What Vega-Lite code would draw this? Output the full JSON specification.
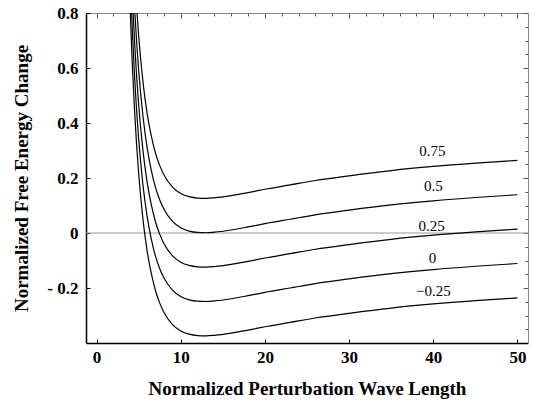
{
  "$schema": "https://vega.github.io/schema/vega-lite/v6.json",
  "width": 442,
  "height": 330,
  "autosize": "none",
  "padding": {"left": 86, "top": 13, "right": 8, "bottom": 60},
  "background": "white",
  "config": {"view": {"stroke": null}, "axis": {"grid": false}},
  "datasets": {
    "curves": [
      {"s":"0.75","x":3.5,"y":1.854},{"s":"0.75","x":3.8,"y":1.498},{"s":"0.75","x":4,"y":1.309},{"s":"0.75","x":4.25,"y":1.114},{"s":"0.75","x":4.5,"y":0.956},{"s":"0.75","x":4.75,"y":0.826},{"s":"0.75","x":5,"y":0.719},{"s":"0.75","x":5.5,"y":0.554},{"s":"0.75","x":6,"y":0.437},{"s":"0.75","x":6.5,"y":0.354},{"s":"0.75","x":7,"y":0.291},{"s":"0.75","x":7.5,"y":0.246},{"s":"0.75","x":8,"y":0.212},{"s":"0.75","x":9,"y":0.168},{"s":"0.75","x":10,"y":0.144},{"s":"0.75","x":11,"y":0.132},{"s":"0.75","x":12,"y":0.127},{"s":"0.75","x":13,"y":0.126},{"s":"0.75","x":14,"y":0.128},{"s":"0.75","x":16,"y":0.136},{"s":"0.75","x":18,"y":0.147},{"s":"0.75","x":20,"y":0.159},{"s":"0.75","x":23,"y":0.175},{"s":"0.75","x":26,"y":0.191},{"s":"0.75","x":30,"y":0.208},{"s":"0.75","x":35,"y":0.227},{"s":"0.75","x":40,"y":0.242},{"s":"0.75","x":45,"y":0.254},{"s":"0.75","x":50,"y":0.264},
      {"s":"0.5","x":3.5,"y":1.729},{"s":"0.5","x":3.8,"y":1.373},{"s":"0.5","x":4,"y":1.184},{"s":"0.5","x":4.25,"y":0.989},{"s":"0.5","x":4.5,"y":0.831},{"s":"0.5","x":4.75,"y":0.701},{"s":"0.5","x":5,"y":0.594},{"s":"0.5","x":5.5,"y":0.429},{"s":"0.5","x":6,"y":0.312},{"s":"0.5","x":6.5,"y":0.229},{"s":"0.5","x":7,"y":0.166},{"s":"0.5","x":7.5,"y":0.121},{"s":"0.5","x":8,"y":0.087},{"s":"0.5","x":9,"y":0.043},{"s":"0.5","x":10,"y":0.019},{"s":"0.5","x":11,"y":0.007},{"s":"0.5","x":12,"y":0.002},{"s":"0.5","x":13,"y":0.001},{"s":"0.5","x":14,"y":0.003},{"s":"0.5","x":16,"y":0.011},{"s":"0.5","x":18,"y":0.022},{"s":"0.5","x":20,"y":0.034},{"s":"0.5","x":23,"y":0.050},{"s":"0.5","x":26,"y":0.066},{"s":"0.5","x":30,"y":0.083},{"s":"0.5","x":35,"y":0.102},{"s":"0.5","x":40,"y":0.117},{"s":"0.5","x":45,"y":0.129},{"s":"0.5","x":50,"y":0.139},
      {"s":"0.25","x":3.5,"y":1.604},{"s":"0.25","x":3.8,"y":1.248},{"s":"0.25","x":4,"y":1.059},{"s":"0.25","x":4.25,"y":0.864},{"s":"0.25","x":4.5,"y":0.706},{"s":"0.25","x":4.75,"y":0.576},{"s":"0.25","x":5,"y":0.469},{"s":"0.25","x":5.5,"y":0.304},{"s":"0.25","x":6,"y":0.187},{"s":"0.25","x":6.5,"y":0.104},{"s":"0.25","x":7,"y":0.041},{"s":"0.25","x":7.5,"y":-0.004},{"s":"0.25","x":8,"y":-0.038},{"s":"0.25","x":9,"y":-0.082},{"s":"0.25","x":10,"y":-0.106},{"s":"0.25","x":11,"y":-0.118},{"s":"0.25","x":12,"y":-0.123},{"s":"0.25","x":13,"y":-0.124},{"s":"0.25","x":14,"y":-0.122},{"s":"0.25","x":16,"y":-0.114},{"s":"0.25","x":18,"y":-0.103},{"s":"0.25","x":20,"y":-0.091},{"s":"0.25","x":23,"y":-0.075},{"s":"0.25","x":26,"y":-0.059},{"s":"0.25","x":30,"y":-0.042},{"s":"0.25","x":35,"y":-0.023},{"s":"0.25","x":40,"y":-0.008},{"s":"0.25","x":45,"y":0.004},{"s":"0.25","x":50,"y":0.014},
      {"s":"0","x":3.5,"y":1.479},{"s":"0","x":3.8,"y":1.123},{"s":"0","x":4,"y":0.934},{"s":"0","x":4.25,"y":0.739},{"s":"0","x":4.5,"y":0.581},{"s":"0","x":4.75,"y":0.451},{"s":"0","x":5,"y":0.344},{"s":"0","x":5.5,"y":0.179},{"s":"0","x":6,"y":0.062},{"s":"0","x":6.5,"y":-0.021},{"s":"0","x":7,"y":-0.084},{"s":"0","x":7.5,"y":-0.129},{"s":"0","x":8,"y":-0.163},{"s":"0","x":9,"y":-0.207},{"s":"0","x":10,"y":-0.231},{"s":"0","x":11,"y":-0.243},{"s":"0","x":12,"y":-0.248},{"s":"0","x":13,"y":-0.249},{"s":"0","x":14,"y":-0.247},{"s":"0","x":16,"y":-0.239},{"s":"0","x":18,"y":-0.228},{"s":"0","x":20,"y":-0.216},{"s":"0","x":23,"y":-0.200},{"s":"0","x":26,"y":-0.184},{"s":"0","x":30,"y":-0.167},{"s":"0","x":35,"y":-0.148},{"s":"0","x":40,"y":-0.133},{"s":"0","x":45,"y":-0.121},{"s":"0","x":50,"y":-0.111},
      {"s":"-0.25","x":3.5,"y":1.354},{"s":"-0.25","x":3.8,"y":0.998},{"s":"-0.25","x":4,"y":0.809},{"s":"-0.25","x":4.25,"y":0.614},{"s":"-0.25","x":4.5,"y":0.456},{"s":"-0.25","x":4.75,"y":0.326},{"s":"-0.25","x":5,"y":0.219},{"s":"-0.25","x":5.5,"y":0.054},{"s":"-0.25","x":6,"y":-0.063},{"s":"-0.25","x":6.5,"y":-0.146},{"s":"-0.25","x":7,"y":-0.209},{"s":"-0.25","x":7.5,"y":-0.254},{"s":"-0.25","x":8,"y":-0.288},{"s":"-0.25","x":9,"y":-0.332},{"s":"-0.25","x":10,"y":-0.356},{"s":"-0.25","x":11,"y":-0.368},{"s":"-0.25","x":12,"y":-0.373},{"s":"-0.25","x":13,"y":-0.374},{"s":"-0.25","x":14,"y":-0.372},{"s":"-0.25","x":16,"y":-0.364},{"s":"-0.25","x":18,"y":-0.353},{"s":"-0.25","x":20,"y":-0.341},{"s":"-0.25","x":23,"y":-0.325},{"s":"-0.25","x":26,"y":-0.309},{"s":"-0.25","x":30,"y":-0.292},{"s":"-0.25","x":35,"y":-0.273},{"s":"-0.25","x":40,"y":-0.258},{"s":"-0.25","x":45,"y":-0.246},{"s":"-0.25","x":50,"y":-0.236}
    ],
    "labels": [
      {"x":39.9,"y":0.297,"t":"0.75"},
      {"x":40.0,"y":0.172,"t":"0.5"},
      {"x":39.8,"y":0.027,"t":"0.25"},
      {"x":39.9,"y":-0.090,"t":"0"},
      {"x":40.0,"y":-0.210,"t":"−0.25"}
    ],
    "zero": [{"y":0}]
  },
  "layer": [
    {
      "data": {"name": "zero"},
      "mark": {"type": "rule", "color": "#999999", "strokeWidth": 1},
      "encoding": {
        "y": {"field": "y", "type": "quantitative", "scale": {"domain": [-0.4, 0.8], "nice": false, "zero": false}, "axis": null}
      }
    },
    {
      "data": {"name": "curves"},
      "mark": {"type": "line", "clip": true, "color": "black", "strokeWidth": 1.2, "interpolate": "monotone"},
      "encoding": {
        "x": {
          "field": "x", "type": "quantitative",
          "scale": {"domain": [-1.25, 51.25], "nice": false, "zero": false},
          "axis": {
            "orient": "bottom", "values": [0, 10, 20, 30, 40, 50],
            "title": "Normalized Perturbation Wave Length",
            "tickSize": -4, "tickColor": "black", "tickWidth": 1,
            "domainColor": "black", "domainWidth": 1.5,
            "labelFont": "Liberation Serif", "labelFontWeight": "bold", "labelFontSize": 17, "labelColor": "black",
            "labelPadding": 10, "labelFlush": false, "labelOverlap": false,
            "titleFont": "Liberation Serif", "titleFontWeight": "bold", "titleFontSize": 19, "titleColor": "black",
            "titleY": 36
          }
        },
        "y": {
          "field": "y", "type": "quantitative",
          "scale": {"domain": [-0.4, 0.8], "nice": false, "zero": false},
          "axis": {
            "orient": "left", "values": [-0.2, 0, 0.2, 0.4, 0.6, 0.8],
            "labelExpr": "datum.value < 0 ? '- ' + format(-datum.value, '.1f') : (datum.value == 0 ? '0' : format(datum.value, '.1f'))",
            "title": "Normalized Free Energy Change",
            "tickSize": -4, "tickColor": "black", "tickWidth": 1,
            "domainColor": "black", "domainWidth": 1.5,
            "labelFont": "Liberation Serif", "labelFontWeight": "bold", "labelFontSize": 17, "labelColor": "black",
            "labelPadding": 12, "labelFlush": false, "labelOverlap": false,
            "titleFont": "Liberation Serif", "titleFontWeight": "bold", "titleFontSize": 19, "titleColor": "black",
            "titleX": -55
          }
        },
        "detail": {"field": "s"}
      }
    },
    {
      "data": {"name": "labels"},
      "mark": {"type": "text", "font": "Liberation Serif", "fontSize": 15, "color": "black", "align": "center", "baseline": "middle"},
      "encoding": {
        "x": {
          "field": "x", "type": "quantitative",
          "axis": {
            "orient": "top", "values": [0,2,4,6,8,10,12,14,16,18,20,22,24,26,28,30,32,34,36,38,40,42,44,46,48,50],
            "labels": false, "title": null,
            "tickSize": {"condition": {"test": "datum.value % 10 === 0", "value": -5}, "value": -3},
            "tickColor": "#555555", "domainColor": "#888888", "domainWidth": 1
          }
        },
        "y": {
          "field": "y", "type": "quantitative",
          "axis": {
            "orient": "right", "values": [-0.35,-0.3,-0.25,-0.2,-0.15,-0.1,-0.05,0,0.05,0.1,0.15,0.2,0.25,0.3,0.35,0.4,0.45,0.5,0.55,0.6,0.65,0.7,0.75,0.8],
            "labels": false, "title": null,
            "tickSize": {"condition": {"test": "abs(datum.value * 5 - round(datum.value * 5)) < 0.001", "value": -5}, "value": -3},
            "tickColor": "#555555", "domainColor": "#888888", "domainWidth": 1
          }
        },
        "text": {"field": "t"}
      }
    }
  ],
  "resolve": {"axis": {"x": "independent", "y": "independent"}}
}
